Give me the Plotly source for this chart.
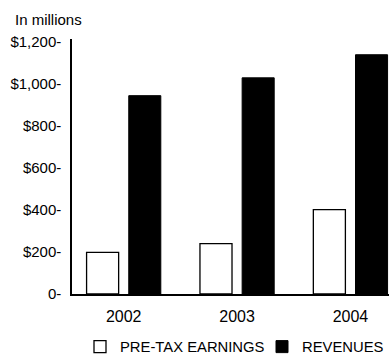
import plotly.graph_objects as go

years = ["2002", "2003", "2004"]
pretax_earnings = [198, 240, 402]
revenues = [945, 1030, 1140]
tick_values = [0, 200, 400, 600, 800, 1000, 1200]
tick_labels = ["0-", "$200-", "$400-", "$600-", "$800-", "$1,000-", "$1,200-"]

FONT = "Liberation Sans, Arial, Helvetica, sans-serif"
W, H = 389, 356

fig = go.Figure()
fig.add_trace(go.Bar(
    x=years, y=pretax_earnings, name="PRE-TAX EARNINGS", legend="legend",
    marker=dict(color="white", line=dict(color="black", width=1.3)),
))
fig.add_trace(go.Bar(
    x=years, y=revenues, name="REVENUES", legend="legend2",
    marker=dict(color="black", line=dict(color="black", width=1)),
))

leg_common = dict(orientation="h", xanchor="left", xref="container", yref="container",
                  y=1 - 347 / H, yanchor="middle",
                  font=dict(size=14.8, family=FONT), itemwidth=30,
                  bgcolor="rgba(0,0,0,0)")

fig.update_layout(
    width=W, height=H,
    margin=dict(l=72, r=0, t=39, b=62, autoexpand=False),
    paper_bgcolor="white", plot_bgcolor="white",
    barmode="group", bargap=0.256, bargroupgap=0.24,
    font=dict(family=FONT, color="black", size=15),
    showlegend=True,
    legend=dict(x=80 / W, **leg_common),
    legend2=dict(x=262 / W, **leg_common),
    xaxis=dict(type="category", range=[-0.456, 2.34], showline=True, linecolor="black",
               linewidth=1.5, ticks="outside", ticklen=7, tickcolor="rgba(0,0,0,0)",
               showgrid=False, zeroline=False, automargin=False,
               tickfont=dict(size=16, family=FONT)),
    yaxis=dict(range=[0, 1215], tickvals=tick_values, ticktext=tick_labels,
               showline=True, linecolor="black", linewidth=1.5, ticks="",
               showgrid=False, zeroline=False, ticklabelstandoff=6, automargin=False,
               tickfont=dict(size=15, family=FONT)),
    annotations=[dict(text="In millions", xref="paper", yref="paper", x=-72 / 317, y=1,
                      yshift=20, xanchor="left", yanchor="middle", showarrow=False,
                      xshift=13, font=dict(size=15, family=FONT))],
)

fig.write_html("out.html")
